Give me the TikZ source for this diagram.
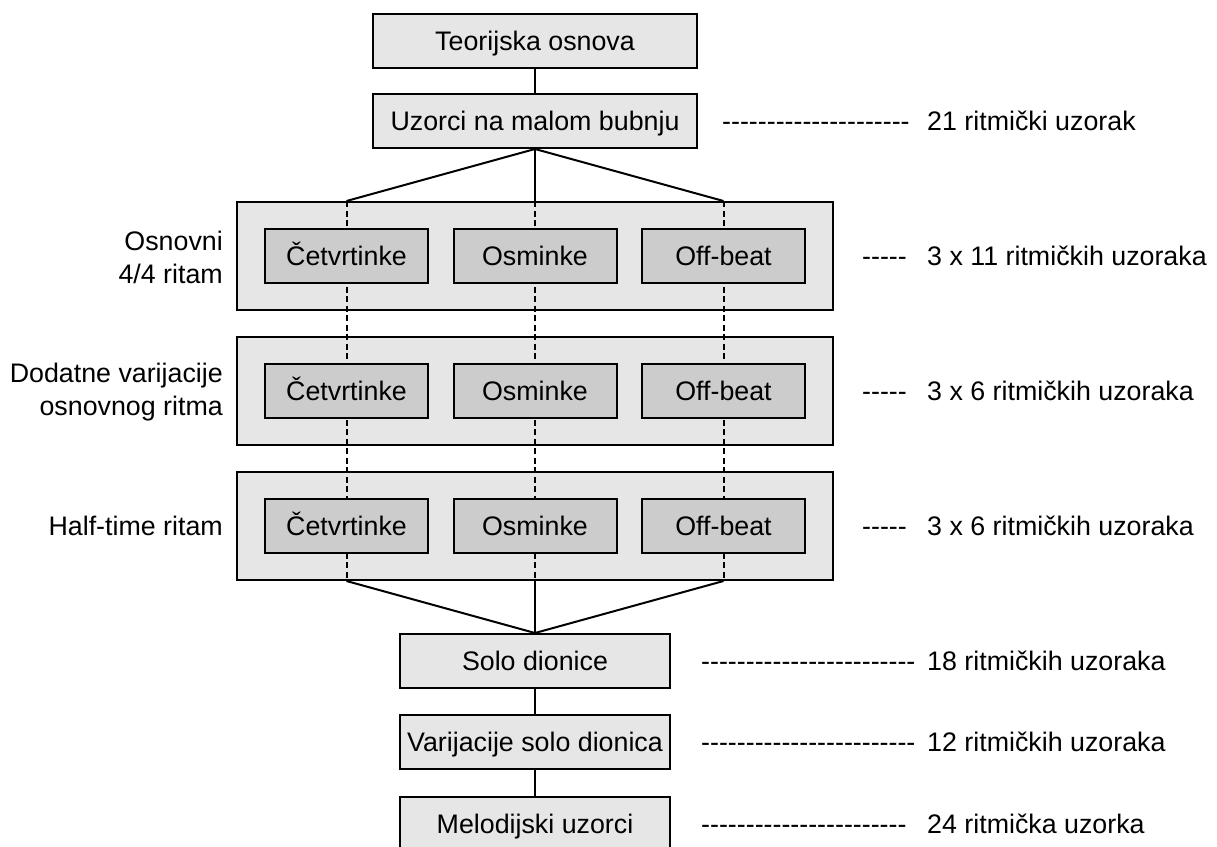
\documentclass[tikz,border=0pt]{standalone}
\usepackage{fontspec}
\setmainfont{Liberation Sans}[Ligatures=TeXOff]
\definecolor{boxgray}{HTML}{E6E6E6}
\definecolor{innergray}{HTML}{CCCCCC}
\tikzset{
  every node/.style={font=\fontsize{26.8}{33}\selectfont, inner sep=0pt},
  boxbase/.style={draw, line width=2pt, text height=19pt, text depth=0pt},
  mainbox/.style={boxbase, fill=boxgray, minimum width=324pt, minimum height=54pt},
  lowbox/.style={boxbase, fill=boxgray, minimum width=270pt, minimum height=54pt},
  groupbox/.style={draw, line width=2pt, fill=boxgray, minimum width=596pt, minimum height=108pt},
  innerbox/.style={boxbase, fill=innergray, minimum width=163pt, minimum height=54pt},
  leftlabel/.style={anchor=east, align=right},
  righttext/.style={anchor=west, text height=19pt, text depth=0pt},
  conn/.style={line width=2pt},
  dashline/.style={line width=2pt, dash pattern=on 6pt off 3.5pt}
}
\begin{document}
\begin{tikzpicture}[x=1pt,y=-1pt]
\useasboundingbox (0,0) rectangle (1217,846);
% top boxes
\node[mainbox] (teo) at (535,40.5) {Teorijska osnova};
\node[mainbox] (uz) at (535,121) {Uzorci na malom bubnju};
% group boxes
\node[groupbox] (g1) at (535,256) {};
\node[groupbox] (g2) at (535,391) {};
\node[groupbox] (g3) at (535,526) {};
% columns
\coordinate (ca) at (346.5,0);
\coordinate (cb) at (535,0);
\coordinate (cc) at (723.5,0);
% dashed verticals
\draw[dashline] (ca |- g1.north) -- (ca |- g3.south);
\draw[dashline] (cb |- g1.north) -- (cb |- g3.south);
\draw[dashline] (cc |- g1.north) -- (cc |- g3.south);
% inner boxes
\node[innerbox] (g1a) at (ca |- g1) {Četvrtinke};
\node[innerbox] (g1b) at (cb |- g1) {Osminke};
\node[innerbox] (g1c) at (cc |- g1) {Off-beat};
\node[innerbox] (g2a) at (ca |- g2) {Četvrtinke};
\node[innerbox] (g2b) at (cb |- g2) {Osminke};
\node[innerbox] (g2c) at (cc |- g2) {Off-beat};
\node[innerbox] (g3a) at (ca |- g3) {Četvrtinke};
\node[innerbox] (g3b) at (cb |- g3) {Osminke};
\node[innerbox] (g3c) at (cc |- g3) {Off-beat};
% lower boxes
\node[lowbox] (solo) at (535,661) {Solo dionice};
\node[lowbox] (var) at (535,742) {Varijacije solo dionica};
\node[lowbox] (mel) at (535,824) {Melodijski uzorci};
% solid connectors
\draw[conn] (teo) -- (uz);
\draw[conn] (uz.south) -- (ca |- g1.north);
\draw[conn] (uz.south) -- (cb |- g1.north);
\draw[conn] (uz.south) -- (cc |- g1.north);
\draw[conn] (ca |- g3.south) -- (solo.north);
\draw[conn] (cb |- g3.south) -- (solo.north);
\draw[conn] (cc |- g3.south) -- (solo.north);
\draw[conn] (solo) -- (var);
\draw[conn] (var) -- (mel);
% left labels
\node[leftlabel] (l1) at (223,257) {Osnovni\\4/4 ritam};
\node[leftlabel] (l2) at (223,392) {Dodatne varijacije\\osnovnog ritma};
\node[leftlabel] (l3) at (223,526) {Half-time ritam};
% right labels
\node[righttext] (d1) at (722,121) {---------------------};
\node[righttext] (r1) at (927,121) {21 ritmički uzorak};
\node[righttext] (d2) at (862,256) {-----};
\node[righttext] (r2) at (927,256) {3 x 11 ritmičkih uzoraka};
\node[righttext] (d3) at (862,391) {-----};
\node[righttext] (r3) at (927,391) {3 x 6 ritmičkih uzoraka};
\node[righttext] (d4) at (862,526) {-----};
\node[righttext] (r4) at (927,526) {3 x 6 ritmičkih uzoraka};
\node[righttext] (d5) at (701,661) {------------------------};
\node[righttext] (r5) at (927,661) {18 ritmičkih uzoraka};
\node[righttext] (d6) at (701,742) {------------------------};
\node[righttext] (r6) at (927,742) {12 ritmičkih uzoraka};
\node[righttext] (d7) at (701,824) {-----------------------};
\node[righttext] (r7) at (927,824) {24 ritmička uzorka};
\end{tikzpicture}
\end{document}
